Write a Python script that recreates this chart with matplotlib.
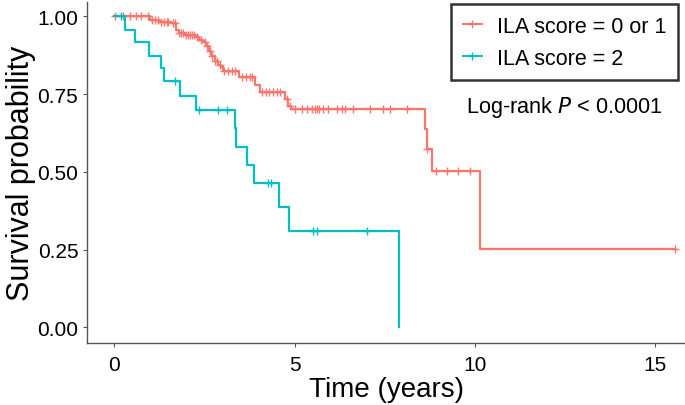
import numpy as np
import matplotlib.pyplot as plt

plt.rcParams['font.family'] = ['Liberation Sans', 'DejaVu Sans']

red_col = '#F8766D'
teal_col = '#00BFC4'

# ILA score = 0 or 1 : event times and survival after each step
t_low = [0.98, 1.25, 1.58, 1.72, 1.78, 1.95, 2.27, 2.35, 2.46, 2.55, 2.62, 2.69,
         2.78, 2.88, 2.95, 3.02, 3.46, 3.90, 4.04, 4.73, 4.82, 4.91,
         8.61, 8.66, 8.80, 10.14]
s_low = [0.989, 0.983, 0.977, 0.955, 0.945, 0.940, 0.933, 0.925, 0.917, 0.905, 0.890, 0.873,
         0.858, 0.845, 0.836, 0.825, 0.804, 0.780, 0.756, 0.734, 0.713, 0.702,
         0.638, 0.573, 0.504, 0.252]
cens_low = [0.03, 0.24, 0.43, 0.61, 0.75, 0.93, 1.05, 1.12, 1.2, 1.3, 1.38, 1.45, 1.5,
            1.62, 1.68, 1.8, 1.85, 1.9, 2.0, 2.05, 2.1, 2.15, 2.2, 2.3, 2.4, 2.5, 2.58,
            2.65, 2.72, 2.8, 2.85, 2.92, 3.05, 3.15, 3.25, 3.35, 3.55, 3.65, 3.75, 3.82,
            4.1, 4.2, 4.3, 4.4, 4.5, 4.6, 4.78, 4.86,
            5.01, 5.20, 5.33, 5.47, 5.56, 5.63, 5.68, 5.79, 5.93, 6.16, 6.30, 6.39,
            6.62, 7.09, 7.46, 7.65, 8.11, 8.68, 8.92, 9.22, 9.54, 9.86, 15.55]
end_low = 15.55

# ILA score = 2
t_high = [0.30, 0.57, 0.97, 1.29, 1.38, 1.82, 2.27, 3.35, 3.38, 3.67, 3.86, 4.57, 4.83, 7.89]
s_high = [0.957, 0.916, 0.873, 0.833, 0.793, 0.745, 0.699, 0.640, 0.581, 0.523, 0.465,
          0.388, 0.309, 0.0]
cens_high = [0.18, 1.68, 2.36, 2.88, 3.12, 4.27, 4.34, 5.52, 5.61, 7.01]
end_high = 7.89


def surv_at(times, surv, c):
    idx = np.searchsorted(times, c, side='right')
    return np.concatenate([[1.0], surv])[idx]


fig = plt.figure(figsize=(6.85, 4.06), dpi=100)
ax = fig.add_axes([87.3/685, 1-344/406, 1-87.3/685, (344-2.7)/406])

for times, surv, cens, tend, col, lab in [
        (t_low, s_low, cens_low, end_low, red_col, 'ILA score = 0 or 1'),
        (t_high, s_high, cens_high, end_high, teal_col, 'ILA score = 2')]:
    tt = np.concatenate([[0.0], times, [tend]])
    ss = np.concatenate([[1.0], surv, [surv[-1]]])
    ax.step(tt, ss, where='post', color=col, lw=1.6)
    cens = np.array(cens)
    ax.plot(cens, surv_at(np.array(times), np.array(surv), cens), ls='none',
            marker='+', ms=6, mew=1.0, color=col)
    ax.plot([], [], color=col, lw=1.4, marker='+', ms=6, mew=1.0, label=lab)

ax.set_xlim(-0.75, 15.82)
ax.set_ylim(-0.05, 1.047)
ax.set_xticks([0, 5, 10, 15])
ax.set_yticks([0, 0.25, 0.5, 0.75, 1.0])
ax.set_yticklabels(['0.00', '0.25', '0.50', '0.75', '1.00'])
ax.spines['top'].set_visible(False)
ax.spines['right'].set_visible(False)
for sp in ['left', 'bottom']:
    ax.spines[sp].set_color('#555555')
    ax.spines[sp].set_linewidth(1.0)
ax.tick_params(colors='#555555', labelcolor='black', labelsize=15, length=3, width=0.8)
ax.tick_params(axis='x', pad=6)
ax.set_xlabel('Time (years)', fontsize=20, labelpad=1)
ax.set_ylabel('Survival probability', fontsize=22, labelpad=1)

leg = ax.legend(loc='upper right', bbox_to_anchor=(678.3/685, 1-5/406), bbox_transform=fig.transFigure,
                fontsize=15.5, frameon=True, fancybox=False, handlelength=0.9, borderpad=0.55,
                labelspacing=0.5, handletextpad=0.7, borderaxespad=0)
leg.get_frame().set_edgecolor('black')
leg.get_frame().set_linewidth(1.8)

ax.text(564.5/685, 1-108/406, 'Log-rank $\\it{P}$ < 0.0001', transform=fig.transFigure,
        ha='center', va='center', fontsize=15.6)

fig.savefig('out.png', dpi=100)
